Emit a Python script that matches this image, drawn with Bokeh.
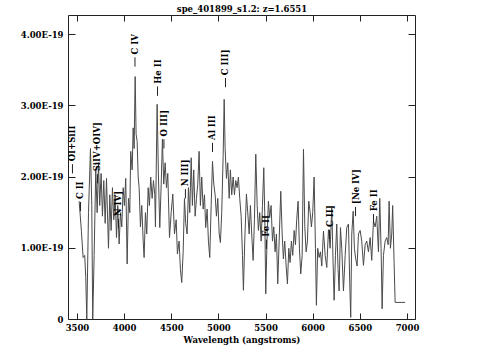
import math
from bokeh.plotting import figure
from bokeh.models import Range1d, FixedTicker, LinearAxis, ColumnDataSource
from bokeh.embed import file_html
from bokeh.resources import INLINE
from bokeh.core.properties import value

# ---------------- data ----------------
title_text = "spe_401899_s1.2: z=1.6551"

wavelength = [3518, 3542, 3560, 3577, 3588, 3599, 3617, 3638, 3652, 3662, 3677, 3694, 3709, 3723,
              3736, 3751, 3765, 3779, 3794, 3808, 3829, 3843, 3857, 3871, 3885, 3900, 3914, 3927,
              3942, 3956, 3970, 3985, 3998, 4012, 4027, 4041, 4055, 4065, 4080, 4091, 4101, 4112,
              4122, 4133, 4144, 4154, 4168, 4182, 4197, 4207, 4221, 4235, 4250, 4263, 4277, 4292,
              4306, 4320, 4327, 4345, 4359, 4373, 4388, 4401, 4415, 4430, 4444, 4458, 4476, 4494,
              4511, 4529, 4547, 4560, 4578, 4592, 4606, 4621, 4635, 4648, 4663, 4677, 4691, 4706,
              4719, 4733, 4748, 4762, 4776, 4790, 4804, 4818, 4833, 4847, 4860, 4875, 4889, 4903,
              4918, 4932, 4946, 4960, 4974, 4988, 5003, 5016, 5030, 5045, 5056, 5066, 5080, 5094,
              5109, 5122, 5136, 5151, 5165, 5179, 5193, 5207, 5221, 5236, 5250, 5260, 5274, 5292,
              5306, 5321, 5334, 5348, 5363, 5377, 5391, 5406, 5419, 5433, 5448, 5462, 5476, 5486,
              5497, 5512, 5525, 5539, 5554, 5568, 5582, 5596, 5610, 5624, 5639, 5656, 5671, 5684,
              5698, 5713, 5727, 5741, 5755, 5769, 5783, 5798, 5812, 5825, 5840, 5854, 5868, 5883,
              5897, 5911, 5925, 5939, 5953, 5968, 5981, 5995, 6010, 6024, 6034, 6048, 6063, 6077,
              6091, 6109, 6127, 6144, 6162, 6180, 6197, 6211, 6222, 6236, 6250, 6264, 6275, 6289,
              6303, 6321, 6339, 6356, 6374, 6388, 6398, 6409, 6424, 6437, 6451, 6466, 6480, 6498,
              6515, 6533, 6551, 6568, 6586, 6604, 6621, 6639, 6657, 6674, 6692, 6706, 6720, 6731,
              6745, 6763, 6780, 6795, 6805, 6819, 6833, 6843, 6858, 6869, 6974]

# flux in units of 1e-19
flux = [1.66, 1.24, 0.87, 0.90, 0.59, 0.00, 1.50, 2.40, 1.60, 0.00, 0.90, 2.10, 1.50, 2.20,
        1.60, 2.05, 1.45, 1.95, 1.35, 1.98, 1.00, 1.75, 1.25, 1.85, 1.40, 1.75, 1.15, 1.60,
        1.06, 1.50, 1.30, 1.85, 1.60, 1.98, 0.78, 1.70, 1.50, 2.36, 2.10, 2.69, 2.40, 3.41,
        2.60, 2.50, 2.00, 1.85, 1.30, 1.60, 1.10, 0.87, 1.50, 1.20, 1.85, 1.60, 2.00, 1.70,
        1.95, 1.75, 1.30, 3.02, 2.00, 1.29, 1.90, 2.53, 1.90, 2.20, 1.85, 2.05, 1.15, 1.50,
        1.76, 1.20, 1.40, 0.92, 1.10, 0.70, 0.52, 0.95, 1.70, 1.35, 1.20, 1.85, 1.50, 2.27,
        1.60, 2.10, 1.45, 1.70, 1.90, 2.36, 1.60, 2.00, 1.55, 1.75, 1.29, 1.55, 1.10, 0.87,
        1.60, 2.22, 1.90, 1.75, 1.45, 1.70, 1.20, 1.08, 1.50, 2.30, 3.09, 2.40, 1.98, 2.20,
        1.70, 2.10, 1.75, 2.00, 1.75, 1.95, 1.85, 2.00, 1.70, 1.45, 0.90, 0.41, 1.10, 1.76,
        1.50, 1.20, 1.60, 1.20, 0.83, 1.40, 2.32, 1.60, 1.25, 1.50, 1.10, 1.60, 2.13, 1.50,
        0.36, 1.20, 1.66, 1.43, 1.60, 1.10, 1.30, 0.95, 1.20, 0.50, 1.10, 1.80, 1.20, 0.85,
        1.10, 0.75, 0.50, 1.00, 0.80, 1.10, 0.90, 1.25, 1.05, 1.40, 1.66, 1.00, 0.64, 0.90,
        2.39, 1.30, 0.95, 1.10, 1.66, 1.50, 1.30, 1.50, 2.00, 1.00, 0.20, 1.00, 0.87, 0.95,
        0.75, 1.24, 0.90, 0.73, 1.26, 1.00, 1.57, 0.80, 0.27, 0.90, 1.34, 0.70, 0.40, 1.29,
        1.00, 0.40, 0.90, 1.29, 1.34, 0.50, 0.03, 1.20, 1.52, 1.00, 0.85, 0.75, 1.20, 1.25,
        1.10, 0.76, 1.05, 1.10, 0.95, 1.15, 0.83, 1.38, 1.30, 1.45, 0.95, 1.70, 1.00, 0.15,
        0.90, 1.10, 1.15, 1.05, 1.66, 1.00, 1.20, 1.60, 0.80, 0.24, 0.24]

x_ticks = [3500, 4000, 4500, 5000, 5500, 6000, 6500, 7000]
y_ticks = [0, 1, 2, 3, 4]
y_tick_labels = ["0", "1.00E-19", "2.00E-19", "3.00E-19", "4.00E-19"]

line_names = ["OI+SiII", "C II", "SiIV+OIV]", "N IV]", "C IV", "He II", "O III]",
              "N III]", "Al III", "C III]", "Fe II", "C II]", "[Ne IV]", "Fe II"]
line_wave = [3447, 3532, 3712, 3935, 4110, 4349, 4417, 4645, 4932, 5070, 5504, 6173, 6449, 6640]
line_text_y = [2.22, 1.69, 2.08, 1.45, 3.72, 3.31, 2.57, 1.87, 2.52, 3.43, 1.16, 1.30, 1.62, 1.52]

X_MIN, X_MAX = 3405, 7085
Y_MIN, Y_MAX = 0, 4.267

# ---------------- figure ----------------
FONT = "DejaVu Serif"
FS = "8.5px"
INK = "#222222"

p = figure(width=480, height=355, output_backend="svg", toolbar_location=None,
           x_range=Range1d(X_MIN, X_MAX), y_range=Range1d(Y_MIN, Y_MAX),
           min_border_left=68, min_border_right=65, min_border_top=15, min_border_bottom=36,
           x_axis_label="Wavelength (angstroms)", title=title_text)
p.grid.visible = False
p.outline_line_color = INK
p.outline_line_width = 1
p.background_fill_color = "white"
p.border_fill_color = "white"

p.title.align = "center"
p.title.text_font = FONT
p.title.text_font_style = "bold"
p.title.text_font_size = FS
p.title.text_color = "black"
p.title.standoff = 3
p.title.offset = 0

bottom_axis = p.below[0]
left_axis = p.left[0]
top_axis = LinearAxis()
right_axis = LinearAxis()
p.add_layout(top_axis, "above")
p.add_layout(right_axis, "right")

for ax in [bottom_axis, top_axis]:
    ax.ticker = FixedTicker(ticks=x_ticks)
for ax in [left_axis, right_axis]:
    ax.ticker = FixedTicker(ticks=y_ticks)

for ax in [bottom_axis, left_axis, top_axis, right_axis]:
    ax.axis_line_color = None
    ax.major_tick_in = 7
    ax.major_tick_out = 0
    ax.major_tick_line_color = INK
    ax.minor_tick_line_color = None
    ax.major_label_text_font = FONT
    ax.major_label_text_font_style = "bold"
    ax.major_label_text_font_size = FS
    ax.major_label_text_color = "black"

for ax in [top_axis, right_axis]:
    ax.major_label_text_font_size = "0px"
    ax.major_label_text_color = None
    ax.major_label_standoff = 0

bottom_axis.major_tick_in = 6
top_axis.major_tick_in = 6
bottom_axis.major_label_standoff = 4
bottom_axis.axis_label_standoff = 1
bottom_axis.axis_label_text_font = FONT
bottom_axis.axis_label_text_font_style = "bold"
bottom_axis.axis_label_text_font_size = FS
bottom_axis.axis_label_text_color = "black"

left_axis.major_label_standoff = 5
left_axis.major_label_overrides = {float(t): s for t, s in zip(y_ticks, y_tick_labels)}

# spectrum
p.line(wavelength, flux, line_color="#4a4a4a", line_width=1)

# line labels (rotated) and markers
src = ColumnDataSource(dict(x=line_wave, y=line_text_y, t=line_names,
                            m0=[v - 0.17 for v in line_text_y],
                            m1=[v - 0.04 for v in line_text_y]))
p.text(x="x", y="y", text="t", source=src, angle=math.pi / 2,
       text_align="left", text_baseline="middle",
       text_font=value(FONT), text_font_style="bold", text_font_size=FS,
       text_color="black")
p.segment(x0="x", y0="m0", x1="x", y1="m1", source=src, line_color=INK, line_width=1)

open("out.html", "w").write(file_html(p, INLINE))
